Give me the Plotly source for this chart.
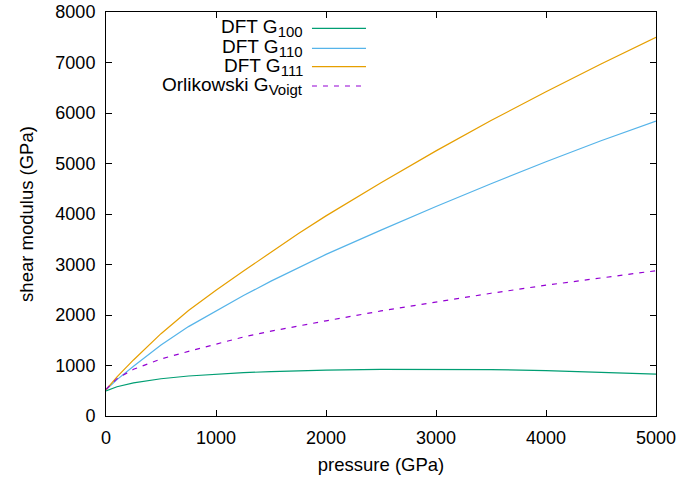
import plotly.graph_objects as go

pressure = [0, 100, 250, 500, 750, 1000, 1250, 1500, 1750, 2000, 2500, 3000, 3500, 4000, 4500, 5000]
g100 = [495, 580, 655, 738, 792, 832, 858, 880, 895, 908, 922, 925, 918, 900, 870, 830]
g110 = [520, 720, 985, 1405, 1770, 2085, 2385, 2670, 2940, 3200, 3680, 4150, 4600, 5035, 5450, 5840]
g111 = [520, 775, 1110, 1630, 2090, 2490, 2870, 3250, 3615, 3963, 4620, 5250, 5850, 6420, 6970, 7500]
gvoigt = [530, 740, 925, 1130, 1280, 1420, 1565, 1680, 1785, 1885, 2080, 2260, 2430, 2590, 2740, 2877]

SUB = "<sub><span style='font-size:15px'>{}</span></sub>"
labels = ["DFT G" + SUB.format("100"), "DFT G" + SUB.format("110"),
          "DFT G" + SUB.format("111"), "Orlikowski G" + SUB.format("Voigt")]
colors = ["#009e73", "#56b4e9", "#e69f00", "#9400d3"]
dashes = ["solid", "solid", "solid", "5px,6px"]
series = [g100, g110, g111, gvoigt]

FONT = "Liberation Sans, Arial, sans-serif"

fig = go.Figure()
for ys, c, d, name in zip(series, colors, dashes, labels):
    fig.add_trace(go.Scatter(x=pressure, y=ys, mode="lines", name=name,
                             line=dict(color=c, width=1.2, dash=d),
                             showlegend=False))

# manual gnuplot-style key (text right-aligned, sample line to the right)
row_y = [0.9597, 0.910, 0.8646, 0.8168]
for name, c, d, yy in zip(labels, colors, dashes, row_y):
    fig.add_annotation(xref="paper", yref="paper", x=0.3618, y=yy, text=name,
                       showarrow=False, xanchor="right", yanchor="middle",
                       font=dict(family=FONT, size=19, color="black"))
    fig.add_shape(type="line", xref="paper", yref="paper", x0=0.3745, x1=0.4727, y0=yy, y1=yy,
                  line=dict(color=c, width=1.2, dash=d))

axis_common = dict(showline=True, linecolor="black", linewidth=1, mirror="allticks",
                   ticks="inside", ticklen=6, tickcolor="black", showgrid=False, zeroline=False,
                   automargin=False,
                   tickfont=dict(family=FONT, size=18, color="black"))

fig.update_xaxes(range=[0, 5000], tickvals=[0, 1000, 2000, 3000, 4000, 5000],
                 ticklabelstandoff=5,
                 title=dict(text="pressure (GPa)", standoff=11,
                            font=dict(family=FONT, size=18.5, color="black")),
                 **axis_common)
fig.update_yaxes(range=[0, 8000], tickvals=list(range(0, 8001, 1000)),
                 ticklabelstandoff=6,
                 title=dict(text="shear modulus (GPa)", standoff=16,
                            font=dict(family=FONT, size=18.5, color="black")),
                 **axis_common)

fig.update_layout(width=681, height=478, margin=dict(l=106, r=25, t=12, b=62),
                  plot_bgcolor="white", paper_bgcolor="white")

fig.write_html("out.html")
